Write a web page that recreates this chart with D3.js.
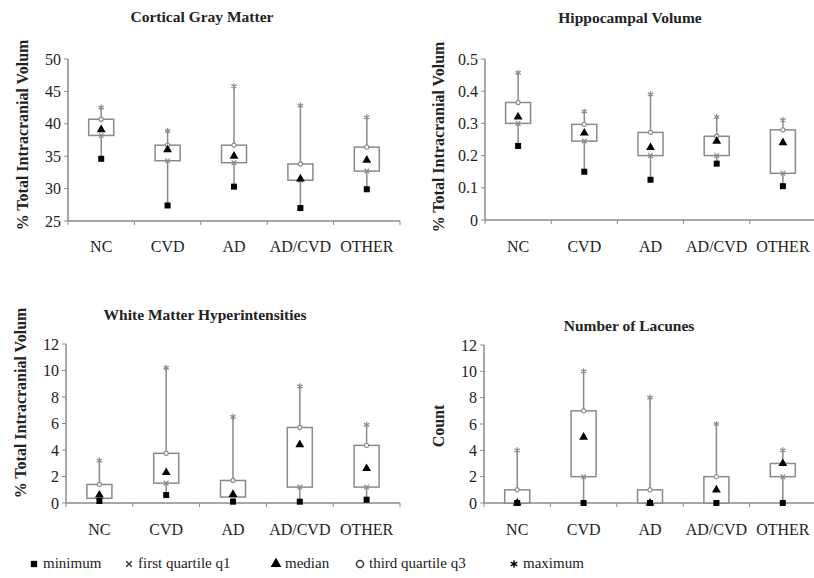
<!DOCTYPE html>
<html>
<head>
<meta charset="utf-8">
<script src="https://cdn.jsdelivr.net/npm/d3@7"></script>
<style>
    body { margin: 0; background: #fff; }
</style>
</head>
<body>
<div id="chart"></div>
<script>
const groups = ["NC", "CVD", "AD", "AD/CVD", "OTHER"];

// Cortical Gray Matter
const cgmMin = [34.6, 27.4, 30.3, 27.0, 29.9];
const cgmQ1  = [38.2, 34.3, 34.0, 31.3, 32.7];
const cgmMed = [39.1, 36.0, 35.0, 31.5, 34.4];
const cgmQ3  = [40.7, 36.7, 36.7, 33.8, 36.4];
const cgmMax = [42.5, 38.9, 45.8, 42.8, 41.0];
const cgmTicks = [25, 30, 35, 40, 45, 50];

// Hippocampal Volume
const hipMin = [0.23, 0.15, 0.125, 0.175, 0.105];
const hipQ1  = [0.30, 0.245, 0.20, 0.20, 0.145];
const hipMed = [0.32, 0.27, 0.225, 0.245, 0.24];
const hipQ3  = [0.365, 0.297, 0.272, 0.26, 0.28];
const hipMax = [0.457, 0.337, 0.39, 0.32, 0.31];
const hipTicks = [0, 0.1, 0.2, 0.3, 0.4, 0.5];

// White Matter Hyperintensities
const wmhMin = [0.15, 0.6, 0.1, 0.1, 0.25];
const wmhQ1  = [0.35, 1.5, 0.45, 1.2, 1.2];
const wmhMed = [0.6, 2.3, 0.65, 4.4, 2.6];
const wmhQ3  = [1.4, 3.75, 1.7, 5.7, 4.35];
const wmhMax = [3.2, 10.2, 6.5, 8.8, 5.9];
const wmhTicks = [0, 2, 4, 6, 8, 10, 12];

// Number of Lacunes
const lacMin = [0, 0, 0, 0, 0];
const lacQ1  = [0, 2, 0, 0, 2];
const lacMed = [0, 5, 0, 1, 3];
const lacQ3  = [1, 7, 1, 2, 3];
const lacMax = [4, 10, 8, 6, 4];
const lacTicks = [0, 2, 4, 6, 8, 10, 12];

const legendLabels = ["minimum", "first quartile q1", "median", "third quartile q3", "maximum"];

const grey = "#8a8a8a";
const svg = d3.select("#chart").append("svg")
    .attr("width", 814)
    .attr("height", 578)
    .attr("font-family", "'Liberation Serif', 'Times New Roman', 'DejaVu Serif', serif")
    .attr("fill", "#222");

function drawPanel(p) {
    let g = svg.append("g");
    let x = d3.scaleBand().domain(groups).range([p.x0, p.x1]);
    let y = d3.scaleLinear().domain(d3.extent(p.ticks)).range([p.y0, p.y1]);
    let cx = d => x(d) + x.bandwidth() / 2;

    // axes
    g.append("line").attr("x1", p.x0).attr("x2", Math.min(p.x1, 814))
        .attr("y1", p.y0).attr("y2", p.y0).attr("stroke", grey).attr("stroke-width", 1.5);
    g.append("line").attr("x1", p.x0).attr("x2", p.x0)
        .attr("y1", p.y0).attr("y2", p.y1).attr("stroke", grey).attr("stroke-width", 1.5);

    let bounds = groups.map(d => x(d)).concat([p.x1]);
    g.selectAll(".xt").data(bounds).enter().append("line")
        .attr("x1", d => d).attr("x2", d => d)
        .attr("y1", p.y0).attr("y2", p.y0 + 4)
        .attr("stroke", grey);

    g.selectAll(".yt").data(p.ticks).enter().append("line")
        .attr("x1", p.x0 - 4).attr("x2", p.x0)
        .attr("y1", d => y(d)).attr("y2", d => y(d))
        .attr("stroke", grey);

    g.selectAll(".yl").data(p.ticks).enter().append("text")
        .attr("x", p.x0 - 7).attr("y", d => y(d))
        .attr("dy", "0.35em")
        .attr("text-anchor", "end")
        .attr("font-size", 16)
        .text(d => d);

    g.selectAll(".xl").data(groups).enter().append("text")
        .attr("x", cx).attr("y", p.labelY)
        .attr("text-anchor", "middle")
        .attr("font-size", 16)
        .text(d => d);

    g.append("text")
        .attr("x", p.titleX).attr("y", p.titleY)
        .attr("text-anchor", "middle")
        .attr("font-size", 15.5)
        .attr("font-weight", "bold")
        .text(p.title);

    g.append("text")
        .attr("transform", "translate(" + p.ylabX + "," + p.ylabY + ") rotate(-90)")
        .attr("text-anchor", "middle")
        .attr("font-size", 16)
        .attr("font-weight", "bold")
        .text(p.ylab);

    // whiskers
    g.selectAll(".wh").data(groups).enter().append("line")
        .attr("x1", cx).attr("x2", cx)
        .attr("y1", (d, i) => y(p.min[i])).attr("y2", (d, i) => y(p.max[i]))
        .attr("stroke", grey).attr("stroke-width", 1.5);

    // boxes
    let bw = 25;
    g.selectAll(".box").data(groups).enter().append("rect")
        .attr("x", d => cx(d) - bw / 2)
        .attr("width", bw)
        .attr("y", (d, i) => y(p.q3[i]))
        .attr("height", (d, i) => y(p.q1[i]) - y(p.q3[i]))
        .attr("fill", "#fff")
        .attr("stroke", grey).attr("stroke-width", 1.5);

    // markers
    let marks = [
        {vals: p.max, sym: d3.symbolAsterisk, size: 26, fill: "none", stroke: grey},
        {vals: p.q3, sym: d3.symbolCircle, size: 14, fill: "#fff", stroke: grey},
        {vals: p.q1, sym: d3.symbolTimes, size: 16, fill: "none", stroke: grey},
        {vals: p.med, sym: d3.symbolTriangle, size: 34, fill: "#000", stroke: "none"},
        {vals: p.min, sym: d3.symbolSquare, size: 36, fill: "#000", stroke: "none"}
    ];
    marks.forEach(function(m) {
        g.selectAll(null).data(groups).enter().append("path")
            .attr("transform", (d, i) => "translate(" + cx(d) + "," + y(m.vals[i]) + ")")
            .attr("d", d3.symbol().type(m.sym).size(m.size))
            .attr("fill", m.fill)
            .attr("stroke", m.stroke)
            .attr("stroke-width", 1.2);
    });
}

drawPanel({title: "Cortical Gray Matter", titleX: 202, titleY: 22,
    ylab: "% Total Intracranial Volum", ylabX: 28, ylabY: 135,
    x0: 68, x1: 400, y0: 221, y1: 59, labelY: 252, ticks: cgmTicks,
    min: cgmMin, q1: cgmQ1, med: cgmMed, q3: cgmQ3, max: cgmMax});

drawPanel({title: "Hippocampal Volume", titleX: 630, titleY: 23,
    ylab: "% Total Intracranial Volum", ylabX: 444, ylabY: 137,
    x0: 485, x1: 816, y0: 220, y1: 59, labelY: 252, ticks: hipTicks,
    min: hipMin, q1: hipQ1, med: hipMed, q3: hipQ3, max: hipMax});

drawPanel({title: "White Matter Hyperintensities", titleX: 205, titleY: 320,
    ylab: "% Total Intracranial Volum", ylabX: 26, ylabY: 403,
    x0: 66, x1: 400, y0: 503, y1: 344, labelY: 535, ticks: wmhTicks,
    min: wmhMin, q1: wmhQ1, med: wmhMed, q3: wmhQ3, max: wmhMax});

drawPanel({title: "Number of Lacunes", titleX: 629, titleY: 331,
    ylab: "Count", ylabX: 444, ylabY: 426,
    x0: 484, x1: 816, y0: 503, y1: 345, labelY: 535, ticks: lacTicks,
    min: lacMin, q1: lacQ1, med: lacMed, q3: lacQ3, max: lacMax});

// legend
let legendSyms = [
    {sym: d3.symbolSquare, size: 40, fill: "#000", stroke: "none", x: 34},
    {sym: d3.symbolTimes, size: 22, fill: "none", stroke: "#333", x: 129},
    {sym: d3.symbolTriangle, size: 50, fill: "#000", stroke: "none", x: 276},
    {sym: d3.symbolCircle, size: 40, fill: "#fff", stroke: "#333", x: 360},
    {sym: d3.symbolAsterisk, size: 40, fill: "none", stroke: "#000", x: 514}
];
let legend = svg.append("g");
legend.selectAll("path").data(legendSyms).enter().append("path")
    .attr("transform", d => "translate(" + d.x + ",564)")
    .attr("d", d => d3.symbol().type(d.sym).size(d.size)())
    .attr("fill", d => d.fill)
    .attr("stroke", d => d.stroke)
    .attr("stroke-width", 1.4);
legend.selectAll("text").data(legendLabels).enter().append("text")
    .attr("x", (d, i) => legendSyms[i].x + 9)
    .attr("y", 568)
    .attr("font-size", 15)
    .text(d => d);
</script>
</body>
</html>
